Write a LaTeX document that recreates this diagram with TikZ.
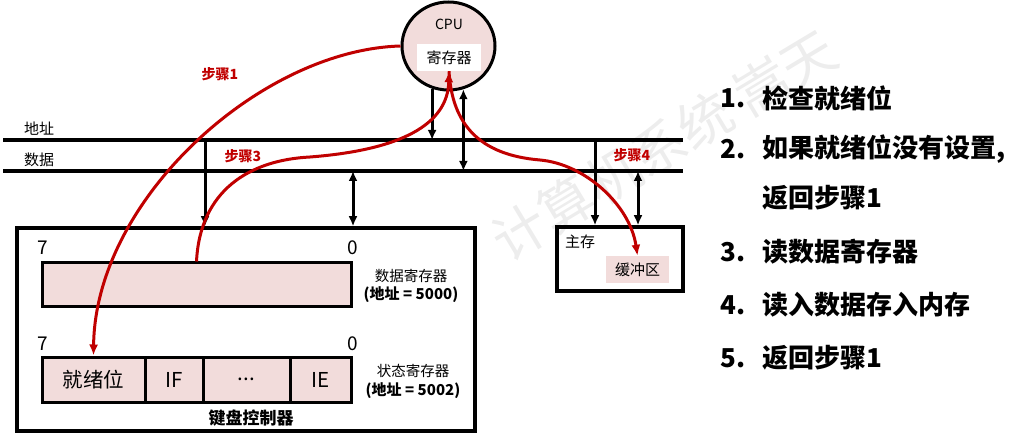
\documentclass[tikz,border=0pt]{standalone}
\usepackage{fontspec}
\setmainfont{Noto Sans CJK SC}
\usetikzlibrary{arrows.meta,shapes.geometric}
\definecolor{regpink}{HTML}{F2DCDB}
\definecolor{stepred}{HTML}{C00000}
\definecolor{wmgray}{HTML}{EDEDED}
\begin{document}
\begin{tikzpicture}[x=1pt,y=-1pt,
  box/.style={draw,line width=3.5pt,inner sep=0pt},
  cell/.style={draw,line width=3pt,fill=regpink,inner sep=0pt,minimum height=45pt,
    font=\fontsize{20.5}{20.5}\selectfont},
  bus/.style={line width=4.5pt},
  tip/.tip={Latex[length=10pt,width=9pt]},
  arr/.style={line width=3pt,-tip},
  darr/.style={line width=3pt,tip-tip},
  flow/.style={draw=stepred,line width=3pt,-{Latex[length=11pt,width=9pt]}},
  steplabel/.style={text=stepred,inner sep=0pt,font=\bfseries\fontsize{14}{14}\selectfont},
  lbl/.style={inner sep=0pt,font=\fontsize{15}{15}\selectfont},
  bit/.style={inner sep=0pt,font=\fontsize{19}{19}\selectfont},
  item/.style={anchor=west,inner sep=0pt,font=\bfseries\fontsize{26}{26}\selectfont}
]
\useasboundingbox (0,0) rectangle (1014,443);

% watermark
\node[text=wmgray,rotate=31,inner sep=0pt,font=\fontsize{54}{54}\selectfont]
  (wm) at (664,145) {计算机系统\ 嵩天};

% buses
\coordinate (addrL) at (3,140);
\coordinate (addrR) at (683,140);
\coordinate (dataL) at (3,171);
\coordinate (dataR) at (683,171);
\draw[bus] (addrL) -- (addrR);
\draw[bus] (dataL) -- (dataR);
\node[lbl] (addrlbl) at (39,129) {地址};
\node[lbl] (datalbl) at (39,160) {数据};

% CPU
\node[draw,ellipse,line width=3pt,fill=regpink,minimum width=93pt,minimum height=88pt]
  (cpu) at (448.5,46) {};
\node[inner sep=0pt,font=\fontsize{14}{14}\selectfont] (cpulbl) at (449,24) {CPU};
\node[fill=white,minimum width=64pt,minimum height=27pt,inner sep=0pt,
  font=\fontsize{15}{15}\selectfont] (reg) at (449,57.5) {寄存器};

% keyboard controller
\node[box,minimum width=458pt,minimum height=203pt] (kbd) at (246,329.5) {};
\node[draw,line width=3pt,fill=regpink,minimum width=309pt,minimum height=44pt,inner sep=0pt]
  (datareg) at (196.5,285) {};
\node[cell,minimum width=103pt] (c1) at (93.5,379.5) {就绪位};
\node[cell,minimum width=58pt] (c2) at (174,379.5) {IF};
\node[cell,minimum width=87pt] (c3) at (246.5,379.5) {...};
\node[cell,minimum width=61pt] (c4) at (320.5,379.5) {IE};
\node[bit] (d7) at (43,248) {7};
\node[bit] (d0) at (353,248) {0};
\node[bit] (s7) at (43,344) {7};
\node[bit] (s0) at (353,344) {0};
\node[lbl,font=\fontsize{14.5}{14.5}\selectfont] (drname) at (411,276) {数据寄存器};
\node[lbl,font=\bfseries\fontsize{15}{15}\selectfont] (draddr) at (411,295) {(地址 = 5000)};
\node[lbl,font=\fontsize{14.5}{14.5}\selectfont] (srname) at (413,371) {状态寄存器};
\node[lbl,font=\bfseries\fontsize{15}{15}\selectfont] (sraddr) at (413,391) {(地址 = 5002)};
\node[inner sep=0pt,font=\bfseries\fontsize{17}{17}\selectfont] (kbdlbl) at (251,418) {键盘控制器};

% main memory
\node[box,minimum width=126pt,minimum height=64pt] (mem) at (620,259) {};
\node[lbl] (memlbl) at (580,242) {主存};
\node[fill=regpink,minimum width=63pt,minimum height=27pt,inner sep=0pt,
  font=\fontsize{15}{15}\selectfont] (buf) at (637.5,269.5) {缓冲区};

% bus connections
\coordinate (t1) at (cpu.249.5);
\coordinate (t2) at (cpu.289);
\draw[arr] (t1) -- (t1 |- addrL);
\draw[darr] (t2) -- (t2 |- dataL);
\coordinate (k1) at (205,140);
\coordinate (k2) at (353,171);
\draw[arr] (k1) -- (k1 |- kbd.north);
\draw[darr] (k2) -- (k2 |- kbd.north);
\coordinate (m1) at (595,140);
\coordinate (m2) at (638,171);
\draw[arr] (m1) -- (m1 |- mem.north);
\draw[darr] (m2) -- (m2 |- mem.north);

% program steps
\draw[flow] (cpu.west) .. controls (260,50) and (95,200) .. (c1.north);
\draw[flow] (datareg.north) .. controls (200,190) and (250,160) .. (310,157)
  .. controls (400,150) and (448,125) .. (reg.south);
\draw[flow] (reg.south) .. controls (452,125) and (480,155) .. (540,160)
  .. controls (585,164) and (630,205) .. (buf.north);
\node[steplabel] (s1) at (220,74) {步骤1};
\node[steplabel] (s3) at (243,156) {步骤3};
\node[steplabel] (s4) at (632,155) {步骤4};

% procedure
\node[item] (n1) at (720,98) {1.};
\node[item] (i1) at (762,98) {检查就绪位};
\node[item] (n2) at (720,149) {2.};
\node[item] (i2) at (762,149) {如果就绪位没有设置,};
\node[item] (i2b) at (762,198) {返回步骤1};
\node[item] (n3) at (720,252) {3.};
\node[item] (i3) at (762,252) {读数据寄存器};
\node[item] (n4) at (720,305) {4.};
\node[item] (i4) at (762,305) {读入数据存入内存};
\node[item] (n5) at (720,358) {5.};
\node[item] (i5) at (762,358) {返回步骤1};
\end{tikzpicture}
\end{document}
